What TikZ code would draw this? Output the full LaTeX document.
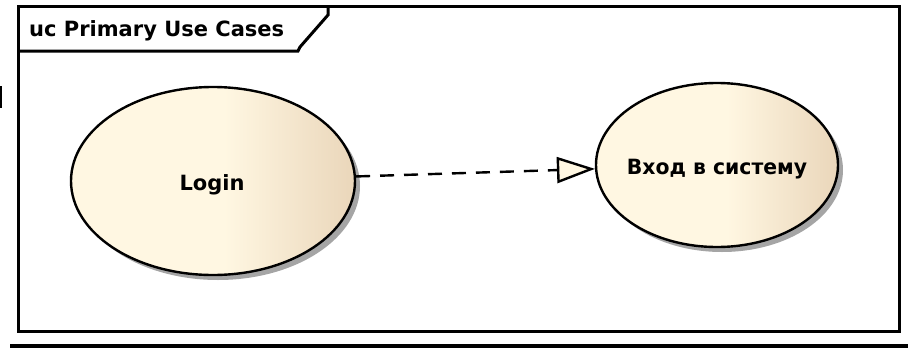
\documentclass[tikz,border=0pt]{standalone}
\usepackage{fontspec}
\setmainfont{DejaVu Sans}
\usetikzlibrary{shapes.geometric,arrows.meta}
\definecolor{ucLight}{RGB}{255,247,226}
\definecolor{ucDark}{RGB}{234,214,186}
\definecolor{ucShadow}{RGB}{165,165,165}
% pale on the left half, warming towards the right rim
\pgfdeclarehorizontalshading{ucshade}{100bp}{color(0bp)=(ucLight); color(25bp)=(ucLight); color(52bp)=(ucLight); color(75bp)=(ucDark); color(100bp)=(ucDark)}
\tikzset{
  usecase/.style={ellipse, draw=black, line width=2.4pt, shading=ucshade, shading angle=0, inner sep=0pt},
  ucshadow/.style={ellipse, fill=ucShadow, draw=none, inner sep=0pt},
  uclabel/.style={font=\fontsize{21}{21}\selectfont\bfseries, text=black, inner sep=0pt},
  realize/.style={dash pattern=on 14pt off 10pt, line width=2.4pt,
    -{Triangle[open, length=38pt, width=26pt, fill=ucLight, line width=2.4pt]}},
  frameline/.style={line width=3pt, draw=black},
}
\begin{document}
\begin{tikzpicture}[x=1pt,y=-1pt]
  \useasboundingbox (0,0) rectangle (908,348);

  % diagram frame with its name tab
  \draw[frameline] (18.5,6) rectangle (899,331);
  \draw[frameline] (18.5,51) -- (298,51) -- (300,47) -- (328,15) -- (328,6);
  \node[uclabel, anchor=base west] (title) at (29,36) {uc Primary Use Cases};

  % edge fragments
  \fill (0,86) rectangle (2.3,108);
  \fill (10,343.5) rectangle (908,348);

  % use cases with drop shadows
  \node[ucshadow, minimum width=284pt, minimum height=188pt] (loginShadow) at (218,186) {};
  \node[ucshadow, minimum width=242pt, minimum height=164pt] (vhodShadow) at (722,170) {};
  \node[usecase, minimum width=284pt, minimum height=188pt] (login) at (213,181) {};
  \node[usecase, minimum width=242pt, minimum height=164pt] (vhod) at (717,165) {};
  \node[uclabel, anchor=base] (loginText) at (212,190) {Login};
  \node[uclabel, anchor=base] (vhodText) at (717,174) {\scalebox{0.97}[1]{Вход в систему}};

  % realization
  \draw[realize] (login) -- (vhod);
\end{tikzpicture}
\end{document}
